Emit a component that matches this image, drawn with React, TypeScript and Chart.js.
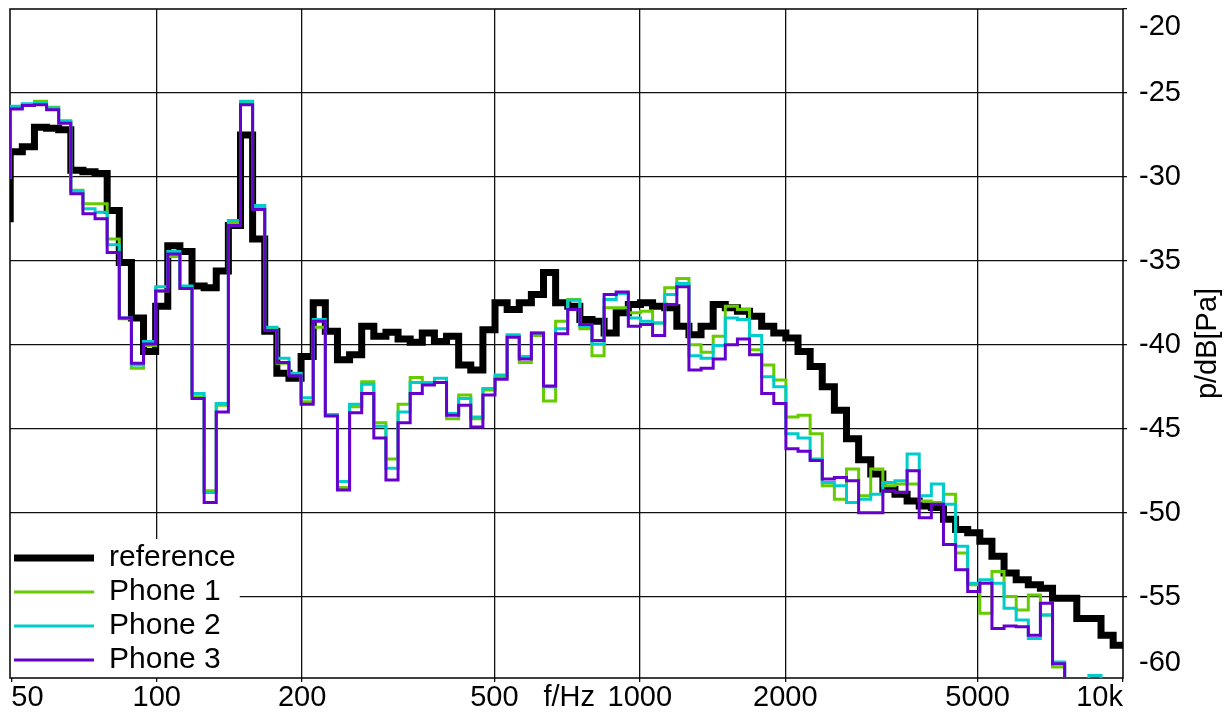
import React, { useEffect, useRef } from 'react';
import { Chart, registerables } from 'chart.js';

Chart.register(...registerables);

const FONT = '"Liberation Sans", Arial, Helvetica, sans-serif';

// 1/12-octave bands; first listed band is band -1 (lower edge just below 50 Hz)
const BAND_BASE_HZ = 49.75;
const BANDS_PER_OCTAVE = 12;
const FIRST_BAND = -1;

const REFERENCE = [
  -32.5,
  -28.5, -28.2, -27.05, -27.1, -27.2, -29.6, -29.7, -29.8, -32.0, -35.1,
  -38.4, -40.4, -37.7, -34.1, -34.45, -36.5, -36.6, -35.6, -32.9, -27.5,
  -33.7, -39.2, -41.7, -42.0, -40.7, -37.5, -39.2, -40.9, -40.6, -38.9,
  -39.5, -39.25, -39.65, -39.85, -39.3, -39.8, -39.5, -41.2, -41.5, -39.1,
  -37.5, -37.9, -37.5, -37.0, -35.7, -37.5, -37.7, -38.5, -38.6, -39.3,
  -38.1, -37.6, -37.5, -37.7, -37.8, -38.9, -39.4, -38.9, -37.6, -37.8,
  -38.0, -38.3, -38.9, -39.3, -39.6, -40.4, -41.3, -42.5, -43.9, -45.6,
  -46.85, -47.7, -48.6, -48.9, -49.3, -49.6, -49.7, -50.4, -51.0, -51.2,
  -51.7, -52.6, -53.6, -54.0, -54.3, -54.5, -55.1, -55.1, -56.3, -56.3,
  -57.3, -57.9,
];

const PHONE_1 = [
  -30,
  -25.85, -25.7, -25.5, -25.85, -26.7, -30.8, -31.6, -31.6, -33.7, -38.45,
  -41.4, -40.05, -36.8, -34.75, -36.6, -43.1, -48.7, -43.6, -32.75, -25.6,
  -31.8, -39.0, -41.1, -41.75, -43.4, -38.95, -44.2, -48.5, -43.7, -42.2,
  -44.65, -46.8, -43.55, -41.95, -42.3, -42.25, -44.4, -43.0, -44.4, -42.7,
  -41.9, -39.5, -41.05, -39.45, -43.35, -38.6, -37.3, -39.05, -40.65, -37.8,
  -37.8, -38.1, -38.0, -38.7, -36.6, -36.05, -40.0, -40.45, -39.5, -37.7,
  -37.9, -40.3, -41.2, -42.1, -44.3, -44.2, -45.3, -48.4, -49.2, -47.4,
  -49.0, -47.4, -48.4, -48.3, -48.3, -49.3, -49.4, -48.9, -52.4, -54.3,
  -56.0, -53.5, -55.0, -55.8, -54.9, -56.1, -59.2, -62, -62, -62,
  -62, -62,
];

const PHONE_2 = [
  -30,
  -25.8, -25.65, -25.6, -25.9, -26.65, -30.85, -31.9, -32.1, -34.05, -38.4,
  -41.2, -39.8, -36.55, -34.45, -36.5, -42.9, -48.8, -43.5, -32.6, -25.5,
  -31.7, -38.95, -40.8, -41.7, -43.15, -38.5, -44.15, -48.15, -43.55, -42.35,
  -44.85, -47.35, -44.0, -42.25, -42.25, -42.0, -44.1, -43.2, -44.3, -42.6,
  -41.8, -39.4, -40.7, -39.3, -42.5, -39.05, -37.35, -38.9, -39.95, -37.3,
  -36.95, -38.4, -38.6, -38.7, -37.0, -36.35, -40.65, -40.8, -40.05, -38.4,
  -38.5, -39.45, -41.9, -42.5, -45.3, -45.55, -46.8, -48.2, -48.4, -49.4,
  -49.2, -48.9, -48.2, -48.1, -46.5, -49.0, -48.3, -49.5, -52.0, -54.2,
  -54.0, -54.2, -55.7, -56.4, -57.5, -56.1, -58.9, -61.5, -61.5, -59.7,
  -61.5, -62,
];

const PHONE_3 = [
  -30,
  -25.95, -25.75, -25.7, -26.0, -26.8, -31.0, -32.2, -32.5, -34.5, -38.4,
  -41.1, -39.95, -36.8, -34.6, -36.65, -43.2, -49.4, -44.0, -32.9, -25.7,
  -31.95, -39.15, -41.05, -41.85, -43.55, -38.6, -44.25, -48.65, -44.05, -42.9,
  -45.55, -48.05, -44.65, -42.9, -42.4, -42.25, -44.2, -43.6, -44.9, -43.0,
  -42.05, -39.55, -40.85, -39.3, -42.45, -39.35, -37.9, -38.8, -39.75, -37.0,
  -36.85, -38.9, -38.8, -39.45, -37.6, -36.55, -41.5, -41.4, -40.85, -40.0,
  -39.65, -40.6, -42.9, -43.5, -46.2, -46.35, -46.9, -48.0, -47.9, -48.1,
  -50.0, -50.0, -48.7, -48.8, -47.5, -50.3, -49.5, -51.9, -53.4, -54.7,
  -54.2, -56.9, -56.75, -56.8, -57.3, -55.4, -59.0, -62, -62, -62,
  -62, -62,
];

const SERIES_LABELS = ['reference', 'Phone 1', 'Phone 2', 'Phone 3'];
const SERIES_VALUES = [REFERENCE, PHONE_1, PHONE_2, PHONE_3];
const SERIES_COLORS = ['#000000', '#66cc00', '#00cccc', '#6600cc'];
const SERIES_WIDTHS = [7, 3, 3, 3];

const X_TICKS = [50, 100, 200, 500, 714, 1000, 2000, 5000, 10000];
const X_TICK_LABELS = ['50', '100', '200', '500', 'f/Hz', '1000', '2000', '5000', '10k'];
const X_AXIS_TITLE_TICK = 714;
const Y_TICKS = [-60, -55, -50, -45, -40, -35, -30, -25, -20];
const Y_TITLE = 'p/dB[Pa]';

const X_MIN = 49.7;
const X_MAX = 10000;
const Y_MIN = -59.85;
const Y_MAX = -20;

const W = 1230;
const H = 716;
const CLEAR = 'rgba(0,0,0,0)';
const GRID = '#111111';

function bandEdge(i: number): number {
  return BAND_BASE_HZ * Math.pow(2, (i + FIRST_BAND) / BANDS_PER_OCTAVE);
}

function stepPoints(values: number[]) {
  const pts = values.map((v, i) => ({ x: bandEdge(i), y: v }));
  pts.push({ x: bandEdge(values.length), y: values[values.length - 1] });
  return pts;
}

const decorPlugin = {
  id: 'decor',
  beforeDraw(chart: any) {
    const a = chart.chartArea;
    const lg = chart.legend;
    if (lg) {
      lg.left = a.left;
      lg.top = a.top;
      lg.right = a.right;
      lg.bottom = a.bottom + 1;
    }
    const ys = chart.scales.y;
    ys.getLabelItems().forEach((it: any) => {
      if (it.label === '-20') it.options.translation[1] += 18;
      if (it.label === '-60') it.options.translation[1] -= 18;
    });
    const xs = chart.scales.x;
    const xi = xs.getLabelItems();
    if (xi.length) {
      xi[0].options.textAlign = 'left';
      xi[xi.length - 1].options.textAlign = 'right';
    }
  },
  beforeDatasetsDraw(chart: any) {
    const { ctx, chartArea: a, legend: lg } = chart;
    ctx.save();
    if (lg && lg.columnSizes && lg.columnSizes.length) {
      const col = lg.columnSizes[0];
      const top = lg.bottom - col.height - 4;
      const right = lg.left + 4 + col.width + 4;
      ctx.fillStyle = '#ffffff';
      ctx.fillRect(a.left, top, right - a.left, a.bottom - top);
      lg.draw();
    }
    ctx.strokeStyle = '#000000';
    ctx.lineWidth = 1.5;
    ctx.strokeRect(a.left, a.top, a.right - a.left, a.bottom - a.top);
    ctx.restore();
  },
  afterDraw(chart: any) {
    const { ctx, chartArea: a } = chart;
    const ys = chart.scales.y;
    ctx.save();
    ctx.translate(ys.right - 22, (a.top + a.bottom) / 2);
    ctx.rotate(-Math.PI / 2);
    ctx.font = `29px ${FONT}`;
    ctx.fillStyle = '#000000';
    ctx.textAlign = 'center';
    ctx.textBaseline = 'middle';
    ctx.fillText(Y_TITLE, 0, 0);
    ctx.restore();
  },
};

export default function App() {
  const ref = useRef<HTMLCanvasElement | null>(null);

  useEffect(() => {
    const canvas = ref.current;
    if (!canvas) return;
    const chart = new Chart(canvas, {
      type: 'line',
      data: {
        datasets: SERIES_VALUES.map((vals, k) => ({
          label: SERIES_LABELS[k],
          data: stepPoints(vals),
          borderColor: SERIES_COLORS[k],
          backgroundColor: SERIES_COLORS[k],
          borderWidth: SERIES_WIDTHS[k],
          stepped: 'before',
          pointRadius: 0,
          pointHoverRadius: 0,
          fill: false,
          tension: 0,
          clip: 0,
          order: SERIES_VALUES.length - k,
        })),
      } as any,
      options: {
        responsive: false,
        animation: false,
        devicePixelRatio: 1,
        events: [],
        layout: { padding: { left: 10, top: 9, right: 0, bottom: 0 } },
        scales: {
          x: {
            type: 'logarithmic',
            position: 'bottom',
            min: X_MIN,
            max: X_MAX,
            bounds: 'data',
            afterBuildTicks: (s: any) => {
              s.ticks = X_TICKS.map((v) => ({ value: v }));
            },
            afterFit: (s: any) => {
              s.height = 38;
              s.paddingLeft = 0;
              s.paddingRight = 0;
            },
            ticks: {
              autoSkip: false,
              maxRotation: 0,
              minRotation: 0,
              padding: 0,
              color: '#000000',
              font: { size: 29, family: FONT, lineHeight: 1.1 },
              callback: (v: any) => {
                const i = X_TICKS.indexOf(Number(v));
                return i >= 0 ? X_TICK_LABELS[i] : '';
              },
            },
            grid: {
              color: (c: any) =>
                c.tick && (c.tick.value === 50 || c.tick.value === X_AXIS_TITLE_TICK || c.tick.value === 10000)
                  ? CLEAR
                  : GRID,
              lineWidth: 1.3,
              tickLength: 4,
              tickColor: (c: any) => (c.tick && c.tick.value === X_AXIS_TITLE_TICK ? CLEAR : GRID),
              tickWidth: 1.3,
            },
            border: { display: false },
          },
          y: {
            type: 'linear',
            position: 'right',
            min: Y_MIN,
            max: Y_MAX,
            bounds: 'data',
            afterBuildTicks: (s: any) => {
              s.ticks = Y_TICKS.map((v) => ({ value: v }));
            },
            afterFit: (s: any) => {
              s.width = 107;
              s.paddingTop = 0;
              s.paddingBottom = 0;
            },
            ticks: {
              autoSkip: false,
              padding: 12,
              color: '#000000',
              font: { size: 29, family: FONT },
              callback: (v: any) => String(v),
            },
            grid: {
              color: (c: any) => (c.tick && (c.tick.value === -20 || c.tick.value === -60) ? CLEAR : GRID),
              lineWidth: 1.3,
              tickLength: 4,
              tickColor: (c: any) => (c.tick && c.tick.value === -60 ? CLEAR : GRID),
              tickWidth: 1.3,
            },
            border: { display: false },
          },
        },
        plugins: {
          tooltip: { enabled: false },
          title: { display: false },
          legend: {
            display: true,
            position: 'chartArea',
            align: 'end',
            labels: {
              usePointStyle: true,
              pointStyle: 'line',
              pointStyleWidth: 80,
              boxHeight: 29,
              padding: 4,
              color: '#000000',
              font: { size: 30, family: FONT },
              generateLabels: (ch: any) =>
                ch.data.datasets.map((ds: any, i: number) => ({
                  text: ds.label,
                  fillStyle: ds.borderColor,
                  strokeStyle: ds.borderColor,
                  lineWidth: ds.borderWidth,
                  lineCap: 'butt',
                  pointStyle: 'line',
                  hidden: false,
                  datasetIndex: i,
                  fontColor: '#000000',
                })),
            },
          },
        },
      } as any,
      plugins: [decorPlugin],
    });
    return () => chart.destroy();
  }, []);

  return (
    <div style={{ position: 'absolute', left: 0, top: 0, width: W, height: H, background: '#ffffff' }}>
      <canvas ref={ref} width={W} height={H} style={{ display: 'block' }} />
    </div>
  );
}
